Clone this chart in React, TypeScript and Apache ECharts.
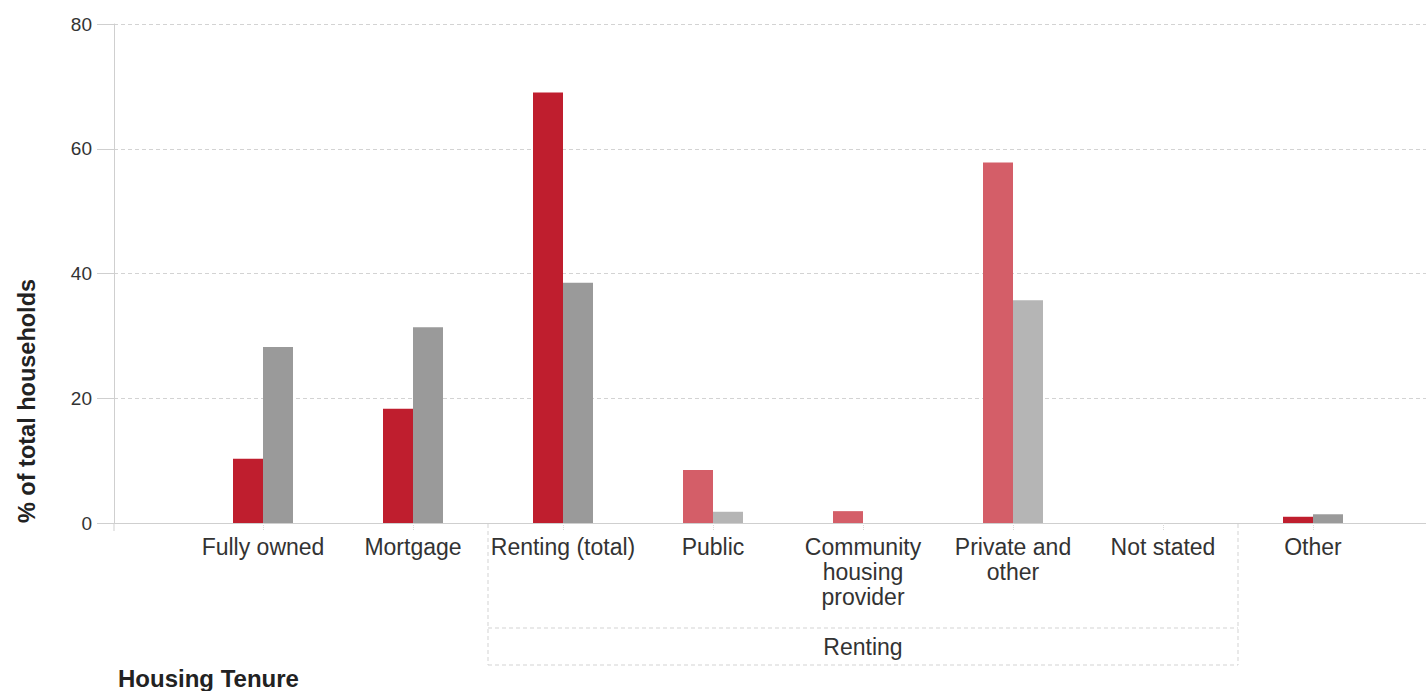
import React, { useEffect, useRef } from "react";
import * as echarts from "echarts";

const categories = [
  "Fully owned",
  "Mortgage",
  "Renting (total)",
  "Public",
  "Community\nhousing\nprovider",
  "Private and\nother",
  "Not stated",
  "Other",
];
const areaValues = [10.3, 18.3, 69.0, 8.5, 1.9, 57.8, 0, 1.0];
const comparisonValues = [28.2, 31.4, 38.5, 1.8, 0, 35.7, 0, 1.4];
const lightCategories = [3, 4, 5];
const yTicks = { min: 0, max: 80, interval: 20 };

const DARK_RED = "#BF1E2E";
const LIGHT_RED = "#D45E68";
const DARK_GRAY = "#9A9A9A";
const LIGHT_GRAY = "#B5B5B5";
const FONT = "'Liberation Sans', Arial, sans-serif";

export default function App() {
  const ref = useRef<HTMLDivElement>(null);
  useEffect(() => {
    if (!ref.current) return;
    const chart = echarts.init(ref.current, undefined, { renderer: "svg" });
    const mk = (vals: number[], dark: string, light: string) =>
      vals.map((v, i) => ({
        value: v,
        itemStyle: { color: lightCategories.includes(i) ? light : dark },
      }));
    const dashed = { color: "#d3d3d3", type: [4, 3] as any, width: 1 };
    chart.setOption({
      animation: false,
      textStyle: { fontFamily: FONT },
      grid: [
        { left: 114, right: 0, top: 24, bottom: 168 },
        { left: 188, right: 38, top: 24, bottom: 168 },
      ],
      xAxis: [
        {
          gridIndex: 0,
          type: "value",
          min: 0,
          max: 1,
          axisLine: { show: true, lineStyle: { color: "#cfcfcf" } },
          axisTick: { show: false },
          axisLabel: { show: false },
          splitLine: { show: false },
        },
        {
          gridIndex: 1,
          type: "category",
          data: categories,
          axisLine: { show: false },
          axisTick: {
            show: true,
            alignWithLabel: true,
            length: 7,
            lineStyle: { color: "#d8d8d8", type: "dotted" },
          },
          axisLabel: {
            interval: 0,
            fontSize: 23,
            lineHeight: 25,
            margin: 11,
            color: "#333",
            fontFamily: FONT,
          },
        },
      ],
      yAxis: [
        {
          gridIndex: 0,
          type: "value",
          min: yTicks.min,
          max: yTicks.max,
          interval: yTicks.interval,
          axisLine: { show: true, lineStyle: { color: "#cfcfcf" } },
          axisTick: { show: true, length: 17, lineStyle: { color: "#cfcfcf" } },
          axisLabel: { fontSize: 19, color: "#333", margin: 22, fontFamily: FONT },
          splitLine: { show: true, lineStyle: dashed },
        },
        {
          gridIndex: 1,
          type: "value",
          min: yTicks.min,
          max: yTicks.max,
          show: false,
          splitLine: { show: false },
        },
      ],
      series: [
        {
          name: "Area",
          type: "bar",
          xAxisIndex: 1,
          yAxisIndex: 1,
          barWidth: 30,
          barGap: "0%",
          data: mk(areaValues, DARK_RED, LIGHT_RED),
        },
        {
          name: "Comparison",
          type: "bar",
          xAxisIndex: 1,
          yAxisIndex: 1,
          barWidth: 30,
          barGap: "0%",
          data: mk(comparisonValues, DARK_GRAY, LIGHT_GRAY),
        },
      ],
      graphic: [
        { type: "line", shape: { x1: 114, y1: 523, x2: 114, y2: 531 }, style: { stroke: "#cfcfcf", lineWidth: 1 } },
        { type: "line", shape: { x1: 488, y1: 524, x2: 488, y2: 665 }, style: { stroke: "#d3d3d3", lineWidth: 1, lineDash: [4, 3] } },
        { type: "line", shape: { x1: 1238, y1: 524, x2: 1238, y2: 665 }, style: { stroke: "#d3d3d3", lineWidth: 1, lineDash: [4, 3] } },
        { type: "line", shape: { x1: 488, y1: 628, x2: 1238, y2: 628 }, style: { stroke: "#d3d3d3", lineWidth: 1, lineDash: [4, 3] } },
        { type: "line", shape: { x1: 488, y1: 665, x2: 1238, y2: 665 }, style: { stroke: "#d3d3d3", lineWidth: 1, lineDash: [4, 3] } },
        {
          type: "text",
          x: 863,
          y: 647,
          style: { text: "Renting", fontSize: 23, fill: "#333", align: "center", verticalAlign: "middle", fontFamily: FONT },
        },
        {
          type: "text",
          x: 27,
          y: 401,
          rotation: Math.PI / 2,
          style: {
            text: "% of total households",
            fontSize: 23.5,
            fontWeight: "bold",
            fill: "#222",
            align: "center",
            verticalAlign: "middle",
            fontFamily: FONT,
          },
        },
        {
          type: "text",
          x: 118,
          y: 690,
          style: {
            text: "Housing Tenure",
            fontSize: 24,
            fontWeight: "bold",
            fill: "#222",
            align: "left",
            verticalAlign: "bottom",
            fontFamily: FONT,
          },
        },
      ],
    });
    return () => chart.dispose();
  }, []);
  return (
    <div
      ref={ref}
      style={{ position: "fixed", left: 0, top: 0, width: 1426, height: 691, background: "#fff" }}
    />
  );
}
